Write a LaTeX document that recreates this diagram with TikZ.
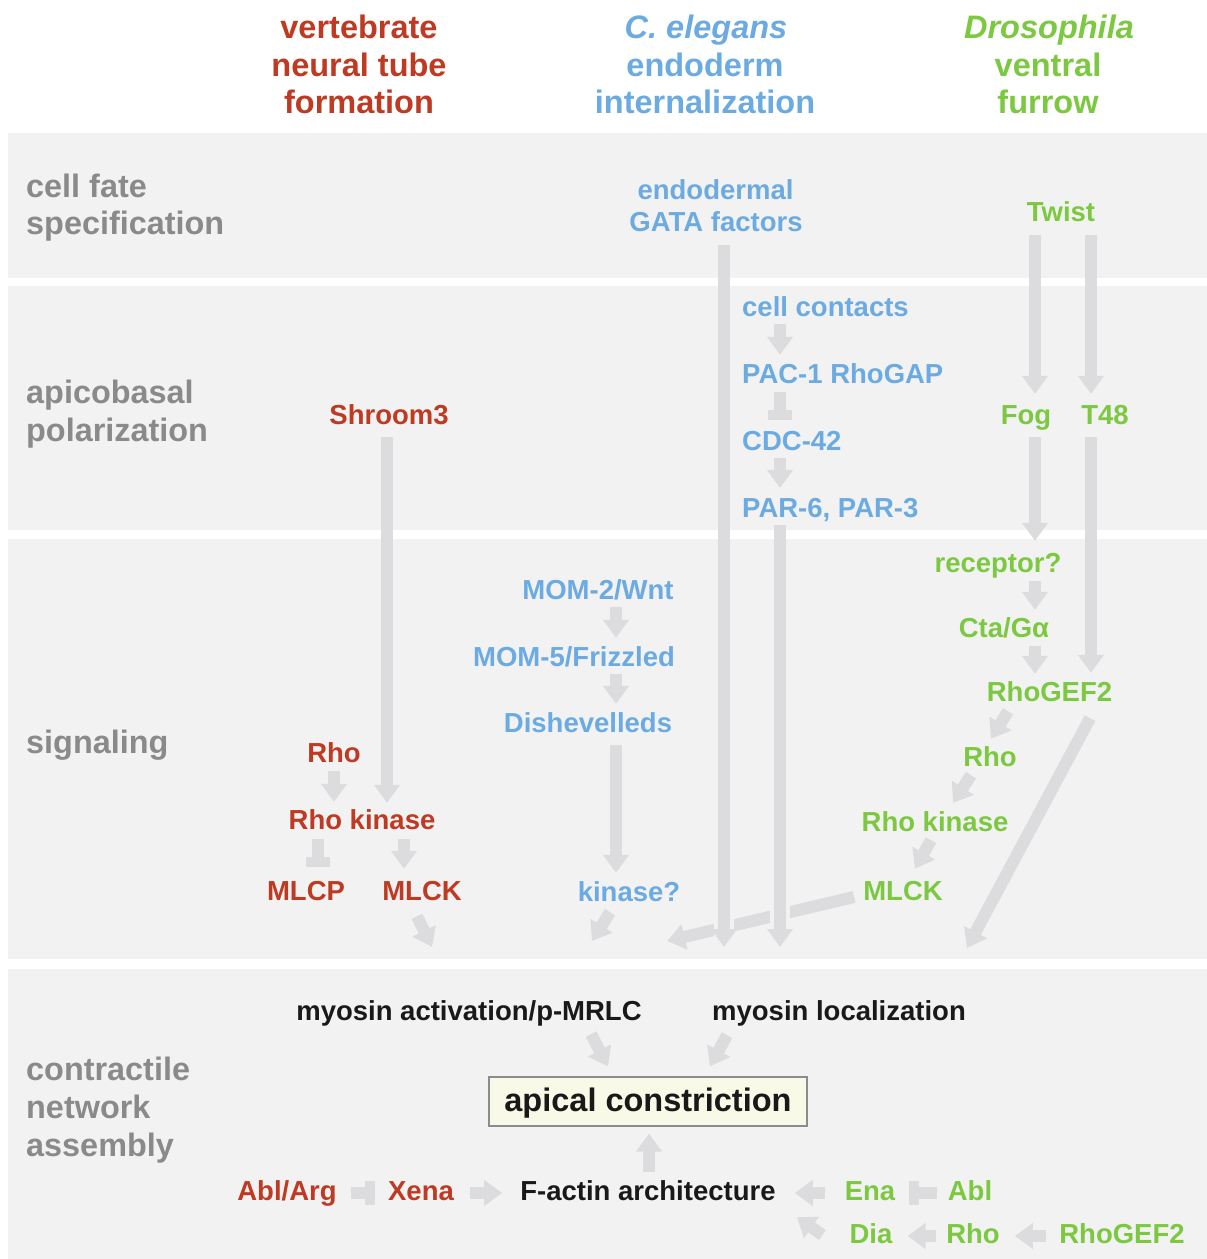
\documentclass[tikz,border=0pt]{standalone}
\usepackage{fontspec}
\setmainfont{Liberation Sans}
\usetikzlibrary{arrows.meta,calc}
\definecolor{panelc}{RGB}{242,242,242}
\definecolor{arrc}{RGB}{220,220,222}
\definecolor{redc}{RGB}{190,58,34}
\definecolor{bluec}{RGB}{108,171,226}
\definecolor{greenc}{RGB}{124,200,64}
\definecolor{grayc}{RGB}{138,138,138}
\definecolor{boxc}{RGB}{248,249,230}
\definecolor{boxline}{RGB}{140,140,140}
\definecolor{inkc}{RGB}{25,25,25}
\begin{document}
\begin{tikzpicture}[x=1pt,y=-1pt,
  lbl/.style={inner sep=0pt, font=\fontsize{27.5}{33}\selectfont\bfseries, text height=20pt, text depth=6pt, anchor=base},
  hdr/.style={inner sep=0pt, font=\fontsize{32.5}{38}\selectfont\bfseries, anchor=base},
  rowlbl/.style={inner sep=0pt, font=\fontsize{32.4}{38}\selectfont\bfseries, text=grayc, anchor=base west},
  rn/.style={lbl,text=redc}, bn/.style={lbl,text=bluec}, gn/.style={lbl,text=greenc}, kn/.style={lbl,text=inkc},
  arr/.style={draw=arrc, line width=12pt, -{Triangle[width=25pt,length=18pt]}},
  inh/.style={draw=arrc, line width=12pt, -{Rectangle[width=24pt,length=10pt]}},
  gapmask/.style={draw=panelc, line width=20pt},
]
\fill[white] (0,0) rectangle (1207,1259);
\useasboundingbox (0,0) rectangle (1207,1259);
% panels
\fill[panelc] (8,133) rectangle (1207,278);
\fill[panelc] (8,286) rectangle (1207,530);
\fill[panelc] (8,539) rectangle (1207,959);
\fill[panelc] (8,969) rectangle (1207,1259);

% headers
\node[hdr,text=redc] (h1a) at (359,38) {vertebrate};
\node[hdr,text=redc] (h1b) at (359,76) {neural tube};
\node[hdr,text=redc] (h1c) at (359,113) {formation};
\node[hdr,text=bluec] (h2a) at (706,38) {\itshape C. elegans};
\node[hdr,text=bluec] (h2b) at (705,76) {endoderm};
\node[hdr,text=bluec] (h2c) at (705,113) {internalization};
\node[hdr,text=greenc] (h3a) at (1049,38) {\itshape Drosophila};
\node[hdr,text=greenc] (h3b) at (1048,76) {ventral};
\node[hdr,text=greenc] (h3c) at (1048,113) {furrow};

% row labels
\node[rowlbl] (r1a) at (26,197) {cell fate};
\node[rowlbl] (r1b) at (26,234) {specification};
\node[rowlbl] (r2a) at (26,403) {apicobasal};
\node[rowlbl] (r2b) at (26,441) {polarization};
\node[rowlbl] (r3a) at (26,753) {signaling};
\node[rowlbl] (r4a) at (26,1080) {contractile};
\node[rowlbl] (r4b) at (26,1118) {network};
\node[rowlbl] (r4c) at (26,1156) {assembly};

% blue nodes
\node[bn] (gata1) at (715.5,199) {endodermal};
\node[bn] (gata2) at (716,231) {GATA factors};
\node[bn,anchor=base west] (cc) at (742,316) {cell contacts};
\node[bn,anchor=base west] (pac) at (742,383) {PAC-1 RhoGAP};
\node[bn,anchor=base west] (cdc) at (742,450) {CDC-42};
\node[bn,anchor=base west] (par) at (742,517) {PAR-6, PAR-3};
\node[bn] (mom2) at (598,599) {MOM-2/Wnt};
\node[bn] (mom5) at (574,666) {MOM-5/Frizzled};
\node[bn] (dsh) at (588,732) {Dishevelleds};
\node[bn] (kin) at (629,901) {kinase?};

% red nodes
\node[rn] (shroom) at (389,424) {Shroom3};
\node[rn] (rrho) at (334,762) {Rho};
\node[rn] (rrk) at (362,829) {Rho kinase};
\node[rn] (mlcp) at (306,900) {MLCP};
\node[rn] (rmlck) at (422,900) {MLCK};
\node[rn] (ablarg) at (287,1200) {Abl/Arg};
\node[rn] (xena) at (421,1200) {Xena};

% green nodes
\node[gn] (twist) at (1061,221) {Twist};
\node[gn] (fog) at (1026,424) {Fog};
\node[gn] (t48) at (1105,424) {T48};
\node[gn] (rec) at (998,572) {receptor?};
\node[gn] (cta) at (1004,637) {Cta/Gα};
\node[gn] (gef) at (1049.5,701) {RhoGEF2};
\node[gn] (grho) at (990,766) {Rho};
\node[gn] (grk) at (935,831) {Rho kinase};
\node[gn] (gmlck) at (903,900) {MLCK};
\node[gn] (ena) at (870,1200) {Ena};
\node[gn] (abl) at (970,1200) {Abl};
\node[gn] (dia) at (871,1243) {Dia};
\node[gn] (brho) at (973,1243) {Rho};
\node[gn] (bgef) at (1122,1243) {RhoGEF2};

% black nodes
\node[kn] (mact) at (469,1020) {myosin activation/p-MRLC};
\node[kn] (mloc) at (839,1020) {myosin localization};
\node[draw=boxline, line width=1.2pt, fill=boxc, inner sep=0pt, minimum width=318pt, minimum height=49pt,
      font=\fontsize{32.5}{38}\selectfont\bfseries, text=inkc, text height=22pt, text depth=2pt] (box) at (648,1101.5) {apical constriction};
\node[kn] (factin) at (648,1200) {F-actin architecture};

% free ends
\coordinate (cg) at (724,947);
\coordinate (cp) at (780,947);
\coordinate (ck) at (592,941);
\coordinate (cm) at (667,941);
\coordinate (cgef) at (967,948);
\coordinate (cr) at (432,947);

% green MLCK to the left, passing under the blue verticals
\draw[arr] ([xshift=-9pt,yshift=-4pt]gmlck.west) -- (cm);
\draw[gapmask] (724,913) -- (724,943);
\draw[gapmask] (780,901) -- (780,929);

% blue connectors
\draw[arr] ([xshift=8pt,yshift=-8pt]gata2.south) -- (cg);
\draw[arr] ([xshift=38pt,yshift=-2pt]cc.south west) -- ([xshift=38pt,yshift=8pt]pac.north west);
\draw[inh] ([xshift=38pt,yshift=-3pt]pac.south west) -- ([xshift=38pt,yshift=10pt]cdc.north west);
\draw[arr] ([xshift=38pt,yshift=-2pt]cdc.south west) -- ([xshift=38pt,yshift=9pt]par.north west);
\draw[arr] ([xshift=38pt,yshift=-2pt]par.south west) -- (cp);
\draw[arr] ([xshift=18pt,yshift=-2pt]mom2.south) -- ([xshift=42pt,yshift=8pt]mom5.north);
\draw[arr] ([xshift=42pt,yshift=-2pt]mom5.south) -- ([xshift=28pt,yshift=8pt]dsh.north);
\draw[arr] ([xshift=28pt,yshift=-7pt]dsh.south) -- ([xshift=-13pt,yshift=8pt]kin.north);
\draw[arr] ([xshift=-19pt,yshift=-5pt]kin.south) -- (ck);

% green connectors
\draw[arr] ([xshift=-26pt,yshift=-8pt]twist.south) -- ([xshift=9pt,yshift=10pt]fog.north);
\draw[arr] ([xshift=30pt,yshift=-8pt]twist.south) -- ([xshift=-14pt,yshift=10pt]t48.north);
\draw[arr] ([xshift=9pt,yshift=-7pt]fog.south) -- ([xshift=37pt,yshift=11pt]rec.north);
\draw[arr] ([xshift=-14pt,yshift=-7pt]t48.south) -- ([xshift=41.5pt,yshift=8pt]gef.north);
\draw[arr] ([xshift=37pt,yshift=-3pt]rec.south) -- ([xshift=31pt,yshift=7pt]cta.north);
\draw[arr] ([xshift=31pt,yshift=-3pt]cta.south) -- ([xshift=-14.5pt,yshift=7pt]gef.north);
\draw[arr] ([xshift=-41.5pt,yshift=-4pt]gef.south) -- ([xshift=1pt,yshift=7pt]grho.north);
\draw[arr] ([xshift=-19pt,yshift=-3pt]grho.south) -- ([xshift=18pt,yshift=8pt]grk.north);
\draw[arr] ([xshift=-4pt,yshift=-3pt]grk.south) -- ([xshift=12pt,yshift=11pt]gmlck.north);
\draw[arr] ([xshift=40.5pt,yshift=-11pt]gef.south) -- (cgef);

% red connectors
\draw[arr] ([xshift=-2pt,yshift=-7pt]shroom.south) -- ([xshift=25pt,yshift=6pt]rrk.north);
\draw[arr] ([yshift=-3pt]rrho.south) -- ([xshift=-28pt,yshift=7pt]rrk.north);
\draw[inh] ([xshift=-44pt,yshift=-4pt]rrk.south) -- ([xshift=12pt,yshift=13pt]mlcp.north);
\draw[arr] ([xshift=42pt,yshift=-4pt]rrk.south) -- ([xshift=-18pt,yshift=11pt]rmlck.north);
\draw[arr] ([xshift=-5pt,yshift=-10pt]rmlck.south) -- (cr);

% contractile network connectors
\draw[arr] ([xshift=122pt,yshift=-8pt]mact.south) -- ([xshift=-40pt,yshift=10pt]box.north);
\draw[arr] ([xshift=-112pt,yshift=-9pt]mloc.south) -- ([xshift=62pt,yshift=10pt]box.north);
\draw[arr] ([xshift=1pt,yshift=8pt]factin.north) -- ([xshift=1pt,yshift=-7pt]box.south);
\draw[inh] ([xshift=14pt]ablarg.east) -- ([xshift=-13pt]xena.west);
\draw[arr] ([xshift=16pt]xena.east) -- ([xshift=-18pt]factin.west);
\draw[arr] ([xshift=-20pt]ena.west) -- ([xshift=19pt]factin.east);
\draw[inh] ([xshift=-11pt]abl.west) -- ([xshift=14pt]ena.east);
\draw[arr] ([xshift=-27pt,yshift=1pt]dia.west) -- ([xshift=21pt,yshift=-11pt]factin.south east);
\draw[arr] ([xshift=-10pt]brho.west) -- ([xshift=15pt]dia.east);
\draw[arr] ([xshift=-13pt]bgef.west) -- ([xshift=15pt]brho.east);
\end{tikzpicture}
\end{document}
